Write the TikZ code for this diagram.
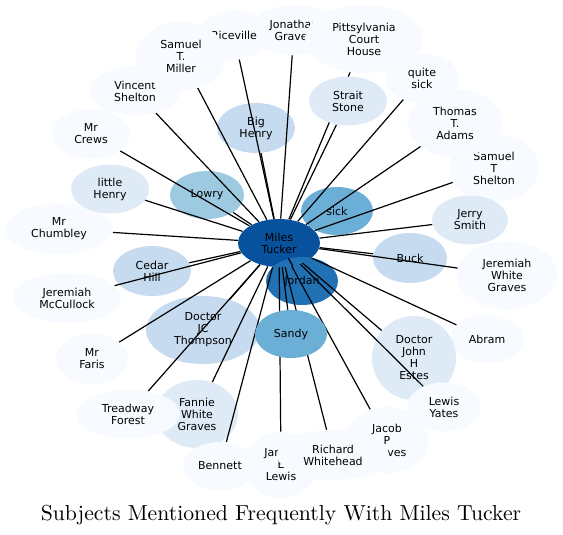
\documentclass[tikz,border=0pt]{standalone}
\usepackage{fontspec}
\usepackage{tikz}
\usetikzlibrary{shapes.geometric}
\newfontfamily\labelfont{DejaVu Sans}
\definecolor{blueDeep}{HTML}{08519C}
\definecolor{blueStrong}{HTML}{2171B5}
\definecolor{blueMid}{HTML}{6BAED6}
\definecolor{blueSoft}{HTML}{9ECAE1}
\definecolor{bluePale}{HTML}{C6DBEF}
\definecolor{blueFaint}{HTML}{DEEBF7}
\definecolor{blueMist}{HTML}{F7FBFF}
\pgfdeclarelayer{front}
\pgfsetlayers{main,front}

\begin{document}
\begin{tikzpicture}[x=0.5pt, y=-0.5pt,
    subject/.style={ellipse, inner sep=0pt, align=center, text=black,
        font=\labelfont\fontsize{5.5}{6}\selectfont},
    link/.style={line width=0.6pt}]
    \useasboundingbox (0,0) rectangle (563,535);
    % outer ring
    \node[subject, fill=blueMist, minimum width=44pt, minimum height=25pt] (jonathan) at (294,30) {Jonathan\\Graves};
    \node[subject, fill=blueMist, minimum width=35pt, minimum height=24.5pt] (riceville) at (234,35) {Riceville};
    \node[subject, fill=blueMist, minimum width=59pt, minimum height=34pt] (pittsylvania) at (364,39) {Pittsylvania\\Court\\House};
    \node[subject, fill=blueMist, minimum width=45pt, minimum height=24.5pt] (vincent) at (135,91) {Vincent\\Shelton};
    \node[subject, fill=blueMist, minimum width=45pt, minimum height=34pt] (stmiller) at (181,56) {Samuel\\T.\\Miller};
    \node[subject, fill=blueMist, minimum width=39pt, minimum height=25pt] (crews) at (91,134) {Mr\\Crews};
    \node[subject, fill=blueMist, minimum width=37pt, minimum height=24.5pt] (quite) at (422,78) {quite\\sick};
    \node[subject, fill=blueMist, minimum width=45pt, minimum height=34pt] (stshelton) at (494,168) {Samuel\\T\\Shelton};
    \node[subject, fill=blueMist, minimum width=47pt, minimum height=34pt] (adams) at (455,123) {Thomas\\T.\\Adams};
    \node[subject, fill=blueFaint, minimum width=38pt, minimum height=24.5pt] (jerry) at (470,220) {Jerry\\Smith};
    \node[subject, fill=blueMist, minimum width=50pt, minimum height=34pt] (jwgraves) at (507,275) {Jeremiah\\White\\Graves};
    \node[subject, fill=blueMist, minimum width=37pt, minimum height=24pt] (abram) at (487,339) {Abram};
    \node[subject, fill=blueFaint, minimum width=42pt, minimum height=42pt] (estes) at (414,358) {Doctor\\John\\H\\Estes};
    \node[subject, fill=blueMist, minimum width=42pt, minimum height=33pt] (jacob) at (387,440) {Jacob\\P\\Graves};
    \node[subject, fill=blueMist, minimum width=37pt, minimum height=33pt] (jlewis) at (281,465) {James\\E\\Lewis};
    \node[subject, fill=blueMist, minimum width=56pt, minimum height=25pt] (whitehead) at (333,455) {Richard\\Whitehead};
    \node[subject, fill=blueMist, minimum width=37pt, minimum height=24.5pt] (yates) at (444,407) {Lewis\\Yates};
    \node[subject, fill=blueFaint, minimum width=41pt, minimum height=34pt] (fannie) at (197,414) {Fannie\\White\\Graves};
    \node[subject, fill=blueMist, minimum width=37pt, minimum height=24pt] (bennett) at (220,466) {Bennett};
    \node[subject, fill=blueMist, minimum width=52pt, minimum height=24.5pt] (treadway) at (128,414) {Treadway\\Forest};
    \node[subject, fill=blueMist, minimum width=36pt, minimum height=25pt] (faris) at (92,359) {Mr\\Faris};
    \node[subject, fill=blueMist, minimum width=54pt, minimum height=25pt] (mccullock) at (67,298) {Jeremiah\\McCullock};
    \node[subject, fill=blueMist, minimum width=54pt, minimum height=25pt] (chumbley) at (59,229) {Mr\\Chumbley};
    \node[subject, fill=blueFaint, minimum width=39pt, minimum height=24.5pt] (lhenry) at (110,189) {little\\Henry};
    % inner ring
    \node[subject, fill=bluePale, minimum width=39pt, minimum height=25pt] (cedarhill) at (152,271) {Cedar\\Hill};
    \node[subject, fill=bluePale, minimum width=57pt, minimum height=34pt] (thompson) at (203,330) {Doctor\\JC\\Thompson};
    \node[subject, fill=blueSoft, minimum width=37pt, minimum height=24pt] (lowry) at (207,195) {Lowry};
    \node[subject, fill=bluePale, minimum width=39pt, minimum height=25pt] (bighenry) at (256,128) {Big\\Henry};
    \node[subject, fill=bluePale, minimum width=37pt, minimum height=25pt] (buck) at (410,258) {Buck};
    \node[subject, fill=blueMid, minimum width=36pt, minimum height=24pt] (sick) at (337,211) {sick};
    \node[subject, fill=blueDeep, minimum width=41pt, minimum height=24pt] (mt) at (279,243) {Miles\\Tucker};
    \node[subject, fill=blueStrong, minimum width=36pt, minimum height=24pt] (jordan) at (302,281) {Jordan};
    \begin{pgfonlayer}{front}
        \node[subject, fill=blueMid, minimum width=36pt, minimum height=24pt] (sandy) at (291,334) {Sandy};
        \node[subject, fill=blueFaint, minimum width=39pt, minimum height=24.5pt] (strait) at (348,101) {Strait\\Stone};
    \end{pgfonlayer}
    % links
    \draw[link] (mt) -- (jordan);
    \draw[link] (mt) -- (sandy);
    \draw[link] (mt) -- (sick);
    \draw[link] (mt) -- (lowry);
    \draw[link] (mt) -- (bighenry);
    \draw[link] (mt) -- (cedarhill);
    \draw[link] (mt) -- (thompson);
    \draw[link] (mt) -- (buck);
    \draw[link] (mt) -- (strait);
    \draw[link] (mt) -- (lhenry);
    \draw[link] (mt) -- (jerry);
    \draw[link] (mt) -- (fannie);
    \draw[link] (mt) -- (estes);
    \draw[link] (mt) -- (crews);
    \draw[link] (mt) -- (chumbley);
    \draw[link] (mt) -- (mccullock);
    \draw[link] (mt) -- (faris);
    \draw[link] (mt) -- (treadway);
    \draw[link] (mt) -- (bennett);
    \draw[link] (mt) -- (jlewis);
    \draw[link] (mt) -- (whitehead);
    \draw[link] (mt) -- (jacob);
    \draw[link] (mt) -- (yates);
    \draw[link] (mt) -- (abram);
    \draw[link] (mt) -- (jwgraves);
    \draw[link] (mt) -- (stshelton);
    \draw[link] (mt) -- (adams);
    \draw[link] (mt) -- (quite);
    \draw[link] (mt) -- (pittsylvania);
    \draw[link] (mt) -- (jonathan);
    \draw[link] (mt) -- (riceville);
    \draw[link] (mt) -- (stmiller);
    \draw[link] (mt) -- (vincent);

    \node[anchor=base, font=\fontsize{10.86}{13}\selectfont] (title) at (281,520) {Subjects Mentioned Frequently With Miles Tucker};

\end{tikzpicture}
\end{document}
